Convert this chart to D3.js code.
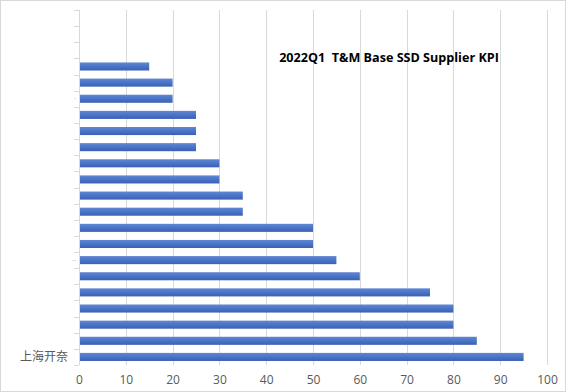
<!DOCTYPE html>
<html>
<head>
<meta charset="utf-8">
<script src="https://cdn.jsdelivr.net/npm/d3@7"></script>
<style>
  body { margin: 0; background: #fff; }
  #vis { width: 566px; height: 392px; }
  text { font-family: "Open Sans", "Noto Sans CJK SC", sans-serif; }
</style>
</head>
<body>
<div id="vis"></div>
<script>
// categories top -> bottom (most labels are blank in the source)
var suppliers = ['', '', '', '', '', '\u00b7', '', '', '', '', '', '', '', '', '', '\u00b7\u00b7', '', '', '', '', '', '上海开奈'];
var scores = [null, null, null, 15, 20, 20, 25, 25, 25, 30, 30, 35, 35, 50, 50, 55, 60, 75, 80, 80, 85, 95];
var xTicks = [0, 10, 20, 30, 40, 50, 60, 70, 80, 90, 100];
var title = '2022Q1  T&M Base SSD Supplier KPI';

var width = 566, height = 392;
var margin = { top: 10, bottom: 27, left: 79, right: 19 };

var svg = d3.select('#vis')
  .append('svg')
  .attr('width', width)
  .attr('height', height);

svg.append('rect')
  .attr('x', 0.5).attr('y', 0.5)
  .attr('width', width - 1).attr('height', height - 1)
  .attr('fill', '#fff')
  .attr('stroke', '#d9d9d9');

var defs = svg.append('defs');
var grad = defs.append('linearGradient')
  .attr('id', 'barfill')
  .attr('x1', 0).attr('y1', 0).attr('x2', 0).attr('y2', 1);
grad.append('stop').attr('offset', '0%').attr('stop-color', '#6286d4');
grad.append('stop').attr('offset', '50%').attr('stop-color', '#4a74c6');
grad.append('stop').attr('offset', '100%').attr('stop-color', '#3a60b4');

var g = svg.append('g')
  .attr('transform', 'translate(' + margin.left + ',' + margin.top + ')');

var w = width - margin.left - margin.right;
var h = height - margin.top - margin.bottom;

var data = scores.map(function(v, i) {
  return { key: i, name: suppliers[i], value: v };
});

var x_scale = d3.scaleLinear().domain([0, 100]).range([0, w]);
var y_scale = d3.scaleBand()
  .domain(data.map(function(d) { return d.key; }))
  .range([0, h])
  .paddingInner(0.5)
  .paddingOuter(0.25);

// vertical grid
g.selectAll('.grid')
  .data(xTicks.slice(1))
  .enter()
  .append('line')
  .attr('class', 'grid')
  .attr('x1', function(d) { return Math.round(x_scale(d)) + 0.5; })
  .attr('x2', function(d) { return Math.round(x_scale(d)) + 0.5; })
  .attr('y1', 0)
  .attr('y2', h)
  .attr('stroke', '#d9d9d9');

// bars
g.selectAll('.bar')
  .data(data.filter(function(d) { return d.value != null; }))
  .enter()
  .append('rect')
  .attr('class', 'bar')
  .attr('x', 0.5)
  .attr('y', function(d) { return y_scale(d.key); })
  .attr('width', function(d) { return x_scale(d.value) - 0.5; })
  .attr('height', y_scale.bandwidth())
  .attr('fill', 'url(#barfill)');

// y axis
var step = y_scale.step();
var yAxisG = g.append('g').attr('class', 'y axis');
yAxisG.append('line')
  .attr('x1', 0.5).attr('x2', 0.5)
  .attr('y1', 0).attr('y2', h)
  .attr('stroke', '#d9d9d9');
yAxisG.selectAll('.ytick')
  .data(d3.range(data.length + 1))
  .enter()
  .append('line')
  .attr('class', 'ytick')
  .attr('x1', -5).attr('x2', 0)
  .attr('y1', function(i) { return Math.round(i * step) + 0.5; })
  .attr('y2', function(i) { return Math.round(i * step) + 0.5; })
  .attr('stroke', '#d9d9d9');
yAxisG.selectAll('.ylabel')
  .data(data)
  .enter()
  .append('text')
  .attr('class', 'ylabel')
  .attr('x', function(d) { return d.name.length > 2 ? -11 : -3; })
  .attr('y', function(d) { return y_scale(d.key) + y_scale.bandwidth() / 2; })
  .attr('dy', '0.35em')
  .attr('text-anchor', 'end')
  .attr('fill', function(d) { return d.name.length > 2 ? '#595959' : '#8c8c8c'; })
  .style('font-size', function(d) { return d.name.length > 2 ? '12px' : '7px'; })
  .text(function(d) { return d.name; });

// x axis labels
var x_axis = d3.axisBottom(x_scale).tickValues(xTicks).tickSize(0).tickPadding(10);
var xAxisG = g.append('g')
  .attr('class', 'x axis')
  .attr('transform', 'translate(0,' + h + ')')
  .call(x_axis);
xAxisG.select('.domain').remove();
xAxisG.selectAll('text')
  .attr('fill', '#595959')
  .style('font-size', '12px')
  .style('font-family', '"Open Sans", sans-serif');

// title
svg.append('text')
  .attr('x', 389)
  .attr('y', 62)
  .attr('text-anchor', 'middle')
  .attr('fill', '#000')
  .style('font-size', '12.6px')
  .style('font-weight', 'bold')
  .attr('xml:space', 'preserve')
  .text(title);
</script>
</body>
</html>
